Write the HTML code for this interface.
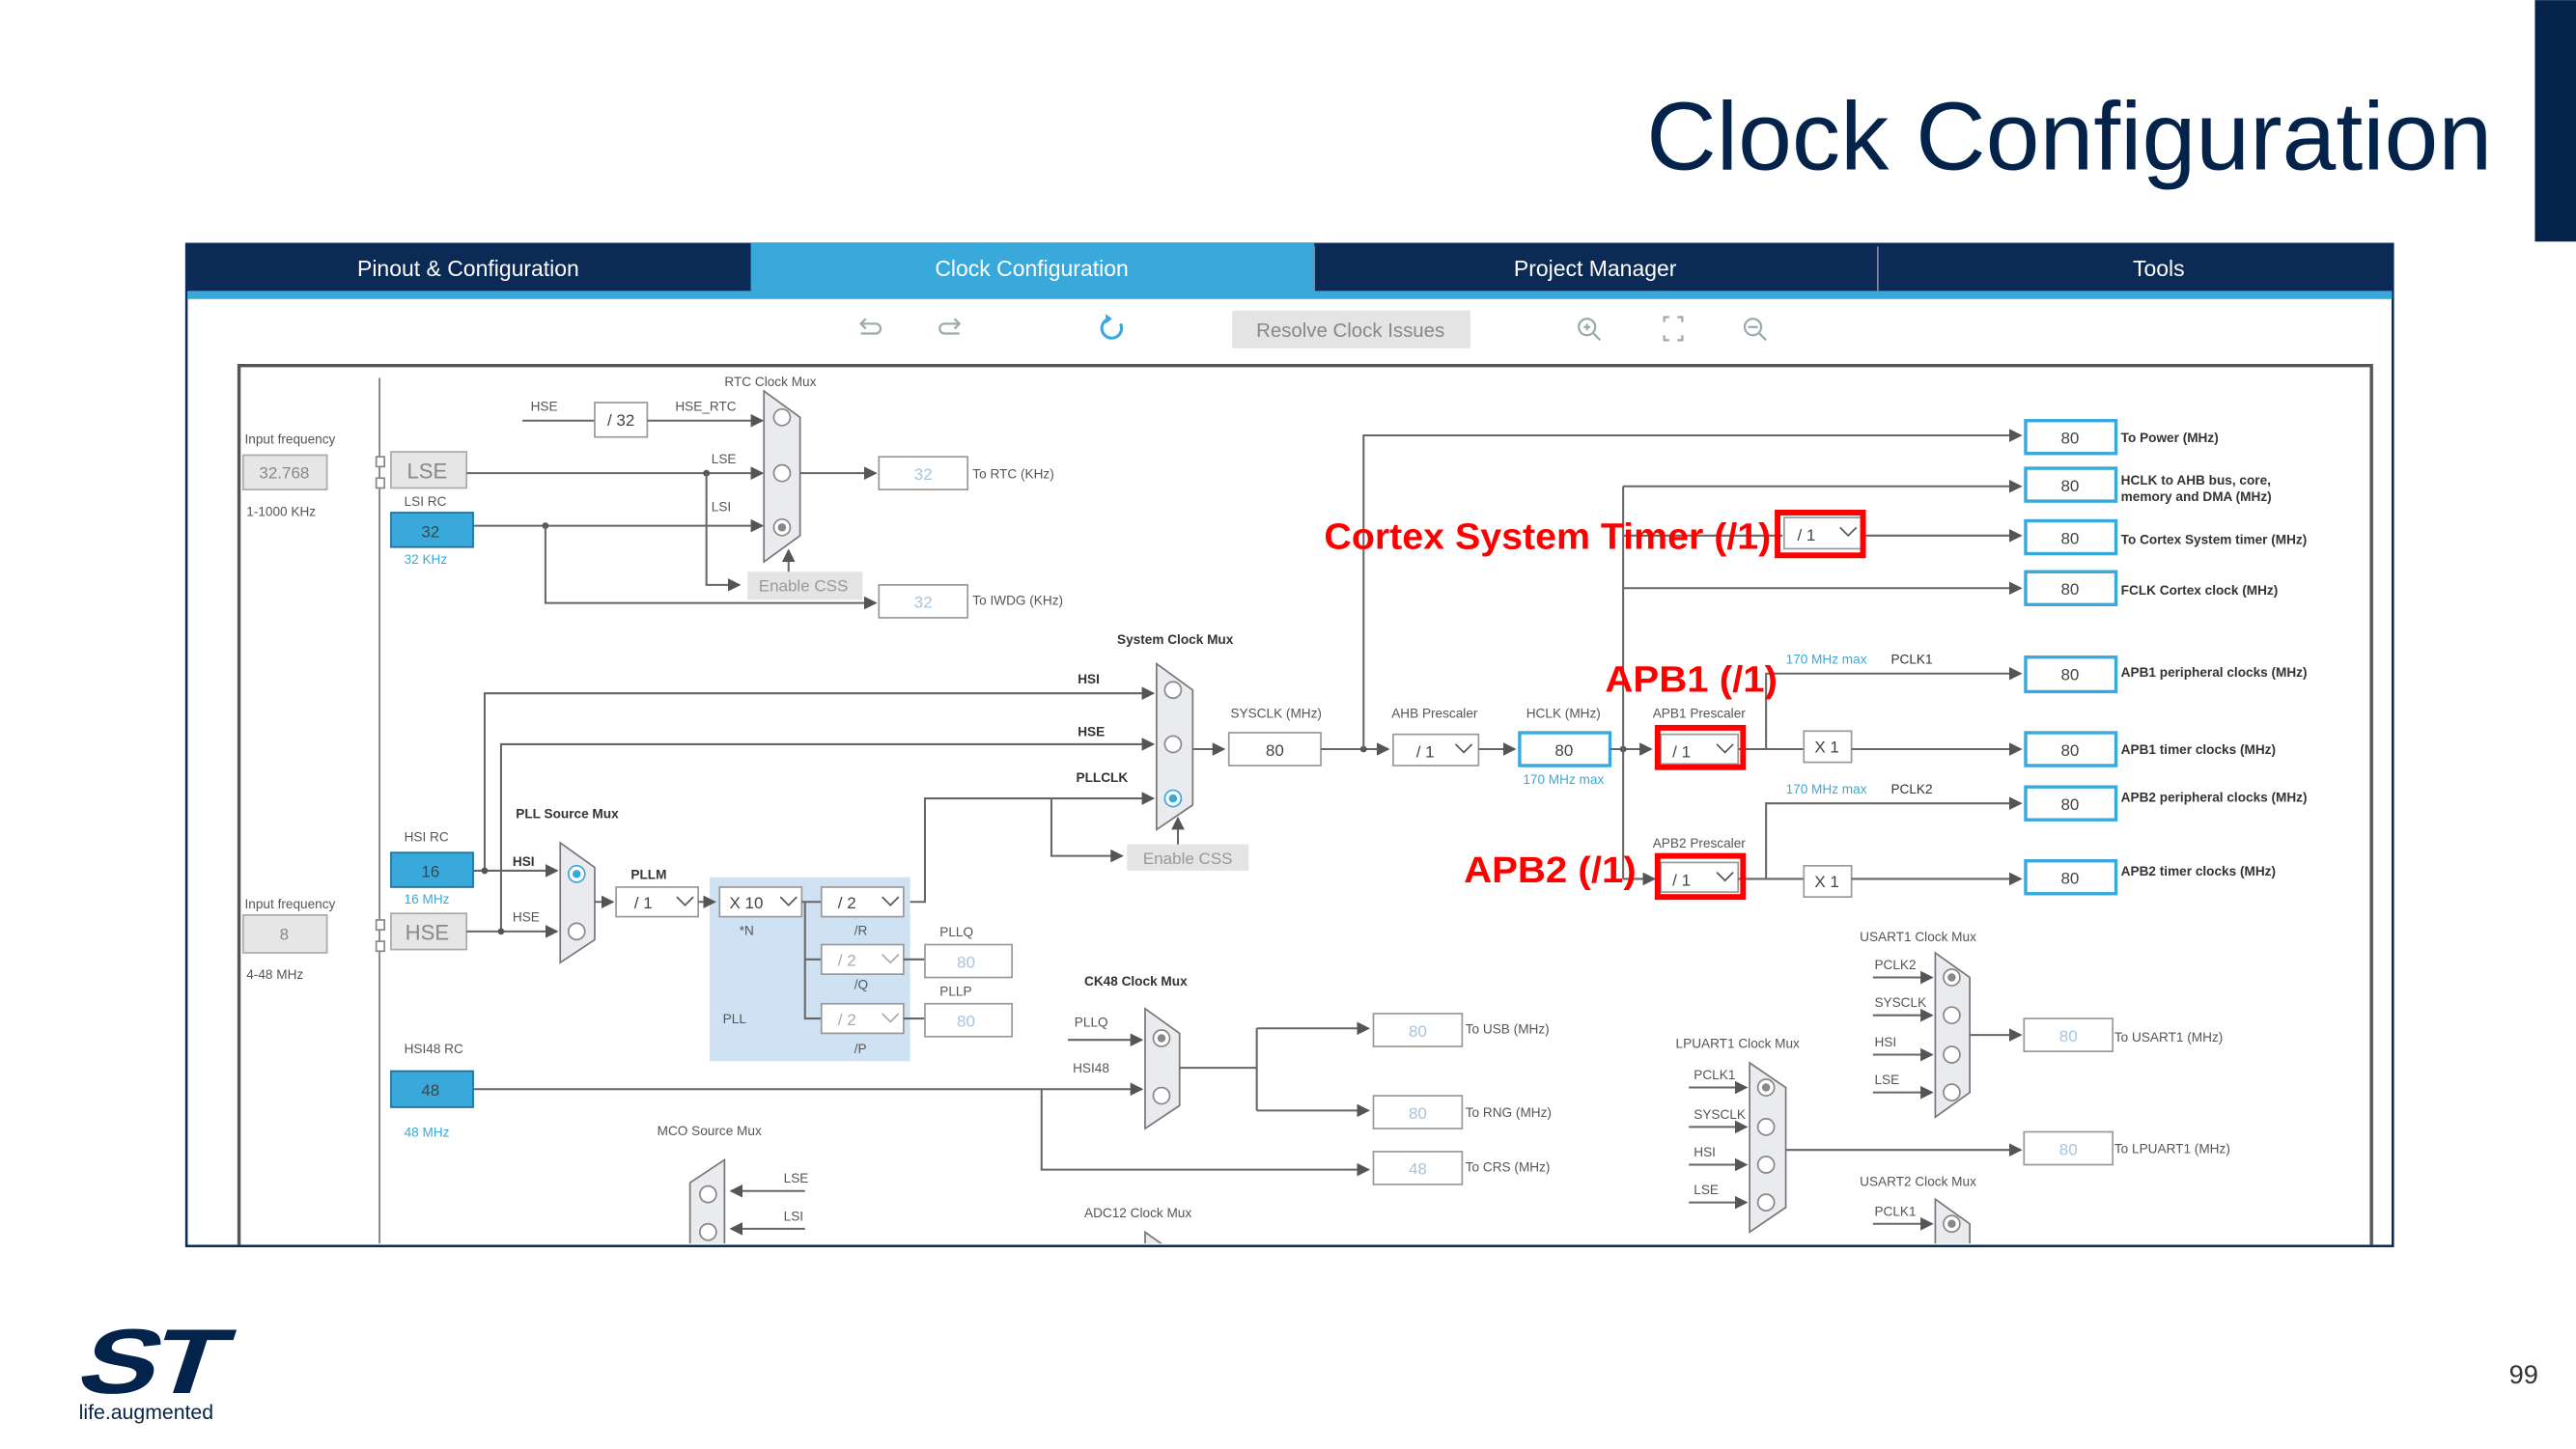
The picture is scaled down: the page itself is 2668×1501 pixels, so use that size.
<!DOCTYPE html>
<html><head><meta charset="utf-8"><style>
html,body{margin:0;padding:0;background:#fff;}
svg{display:block;}
text{font-family:"Liberation Sans",sans-serif;}
.s{font-size:8px;fill:#555;}
.b{font-size:8px;fill:#333;font-weight:bold;}
.bl{font-size:8px;fill:#39a9dc;}
.v{font-size:10px;fill:#444;text-anchor:middle;}
.vl{font-size:10px;fill:#a9c4dd;text-anchor:middle;}
.ln{stroke:#666;stroke-width:1.2;fill:none;}
.mux{fill:#e9ebee;stroke:#777;stroke-width:1;}
.c{fill:#fff;stroke:#888;stroke-width:1;}
.ob{fill:#fff;stroke:#39a9dc;stroke-width:2;}
.gb{fill:#fff;stroke:#999;stroke-width:1;}
.red{fill:#f00;font-weight:bold;font-size:22.5px;}
.rb{fill:none;stroke:#f00;stroke-width:3.5;}
</style></head><body>
<svg width="2668" height="1501" viewBox="0 0 1568 882" xmlns="http://www.w3.org/2000/svg">
<defs>
<marker id="a" markerWidth="8" markerHeight="8" refX="7" refY="4" orient="auto" markerUnits="userSpaceOnUse"><path d="M0,0 L8,4 L0,8 z" fill="#555"/></marker>
<clipPath id="cp"><rect x="145" y="222" width="1300" height="535"/></clipPath>
</defs>
<rect x="1543" y="0" width="25" height="147" fill="#03234b"/>
<text x="1517" y="103" font-size="59" fill="#03234b" text-anchor="end">Clock Configuration</text>

<rect x="113.5" y="148.5" width="1343" height="610" fill="#fff" stroke="#0b2a55" stroke-width="1.5"/>
<rect x="114" y="148" width="1342" height="30" fill="#0b2a55"/>
<rect x="457" y="148" width="343" height="30" fill="#39a9dc"/>
<rect x="114" y="177" width="1342" height="5" fill="#39a9dc"/>
<line x1="1143" y1="150" x2="1143" y2="177" stroke="#7a8ba3"/>
<line x1="800" y1="150" x2="800" y2="177" stroke="#7a8ba3"/>
<g font-size="13.5" fill="#fff" text-anchor="middle">
<text x="285" y="168">Pinout &amp; Configuration</text>
<text x="628" y="168">Clock Configuration</text>
<text x="971" y="168">Project Manager</text>
<text x="1314" y="168">Tools</text>
</g>
<g stroke="#9aa" fill="none" stroke-width="1.3">
<path d="M524,203 h9 a3,3 0 0 0 0,-6 h-8 M527,194 l-3,3 l3,3"/>
<path d="M584,203 h-9 a3,3 0 0 1 0,-6 h8 M581,194 l3,3 l-3,3"/>
<circle cx="966" cy="199" r="5"/><path d="M970,203 l4,4 M964,199 h4 M966,197 v4"/>
<path d="M1013,196 v-3 h3 M1021,193 h3 v3 M1024,204 v3 h-3 M1016,207 h-3 v-3"/>
<circle cx="1067" cy="199" r="5"/><path d="M1071,203 l4,4 M1064,199 h6"/>
</g>
<path d="M682,197 a6,6 0 1 1 -7,-3" stroke="#39a9dc" stroke-width="1.8" fill="none"/>
<path d="M673,191 l4,3 l-4,3z" fill="#39a9dc"/>
<rect x="750" y="189" width="145" height="23" fill="#e4e4e4"/>
<text x="822" y="205" font-size="12" fill="#888" text-anchor="middle">Resolve Clock Issues</text>

<path d="M145.5,758 V222.5 H1443.5 V758" fill="none" stroke="#555" stroke-width="2"/>
<g clip-path="url(#cp)">
<line x1="231" y1="230" x2="231" y2="760" stroke="#777"/>
<text x="149" y="270" class="s">Input frequency</text>
<rect x="148" y="277" width="51" height="21" fill="#e6e6e6" stroke="#aaa"/>
<text x="173" y="291" class="v" style="fill:#888">32.768</text>
<text x="150" y="314" class="s">1-1000 KHz</text>
<rect x="229" y="278" width="5" height="6" fill="#fff" stroke="#888"/><rect x="229" y="291" width="5" height="6" fill="#fff" stroke="#888"/>
<rect x="238" y="275" width="46" height="22" fill="#e6e6e6" stroke="#aaa"/>
<text x="260" y="291" font-size="13" fill="#888" text-anchor="middle">LSE</text>
<text x="246" y="308" class="s">LSI RC</text>
<rect x="238" y="312" width="50" height="21" fill="#39a9dc" stroke="#1d6f99"/>
<text x="262" y="327" class="v">32</text>
<text x="246" y="343" class="bl">32 KHz</text>

<text x="441" y="235" class="s">RTC Clock Mux</text>
<text x="323" y="250" class="s">HSE</text><text x="411" y="250" class="s">HSE_RTC</text>
<line x1="318" y1="256" x2="362" y2="256" class="ln"/>
<rect x="362" y="245" width="32" height="21" class="gb"/><text x="378" y="259" class="v">/ 32</text>
<line x1="394" y1="256" x2="464" y2="256" class="ln" marker-end="url(#a)"/>
<line x1="284" y1="288" x2="464" y2="288" class="ln" marker-end="url(#a)"/>
<circle cx="430" cy="288" r="2" fill="#555"/>
<text x="433" y="282" class="s">LSE</text><text x="433" y="311" class="s">LSI</text>
<line x1="288" y1="320" x2="464" y2="320" class="ln" marker-end="url(#a)"/>
<circle cx="332" cy="320" r="2" fill="#555"/>
<path d="M430,288 V356 H450" class="ln" marker-end="url(#a)"/>
<rect x="455" y="348" width="70" height="17" fill="#e4e4e4"/><text x="489" y="360" font-size="10" fill="#999" text-anchor="middle">Enable CSS</text>
<line x1="480" y1="348" x2="480" y2="335" class="ln" marker-end="url(#a)"/>
<polygon points="465,238 487,254 487,326 465,342" class="mux"/>
<circle cx="476" cy="254" r="5" class="c"/><circle cx="476" cy="288" r="5" class="c"/><circle cx="476" cy="321" r="5" class="c"/><circle cx="476" cy="321" r="2.5" fill="#888"/>
<line x1="487" y1="288" x2="533" y2="288" class="ln" marker-end="url(#a)"/>
<rect x="535" y="278" width="54" height="20" class="gb"/><text x="562" y="292" class="vl">32</text>
<text x="592" y="291" class="s">To RTC (KHz)</text>
<path d="M332,320 V367 H533" class="ln" marker-end="url(#a)"/>
<rect x="535" y="356" width="54" height="20" class="gb"/><text x="562" y="370" class="vl">32</text>
<text x="592" y="368" class="s">To IWDG (KHz)</text>

<text x="680" y="392" class="b">System Clock Mux</text>
<path d="M295,530 V422 H702" class="ln" marker-end="url(#a)"/>
<path d="M305,567 V453 H702" class="ln" marker-end="url(#a)"/>
<text x="656" y="416" class="b">HSI</text><text x="656" y="448" class="b">HSE</text><text x="655" y="476" class="b">PLLCLK</text>
<path d="M550,549 H563 V486 H702" class="ln" marker-end="url(#a)"/>
<path d="M640,486 V521 H683" class="ln" marker-end="url(#a)"/>
<rect x="686" y="514" width="74" height="16" fill="#e4e4e4"/><text x="723" y="526" font-size="10" fill="#999" text-anchor="middle">Enable CSS</text>
<line x1="717" y1="514" x2="717" y2="498" class="ln" marker-end="url(#a)"/>
<polygon points="704,404 726,420 726,490 704,505" class="mux"/>
<circle cx="714" cy="420" r="5" class="c"/><circle cx="714" cy="453" r="5" class="c"/><circle cx="714" cy="486" r="5" class="c" style="stroke:#39a9dc"/><circle cx="714" cy="486" r="2.5" fill="#39a9dc"/>
<line x1="726" y1="456" x2="745" y2="456" class="ln" marker-end="url(#a)"/>
<text x="749" y="437" class="s">SYSCLK (MHz)</text>
<rect x="748" y="446" width="56" height="20" class="gb"/><text x="776" y="460" class="v">80</text>
<line x1="804" y1="456" x2="845" y2="456" class="ln" marker-end="url(#a)"/>
<circle cx="830" cy="456" r="2" fill="#555"/>
<path d="M830,456 V265 H1230" class="ln" marker-end="url(#a)"/>
<text x="847" y="437" class="s">AHB Prescaler</text>
<rect x="848" y="447" width="52" height="19" class="gb"/><text x="862" y="461" font-size="10" fill="#444">/ 1</text><path d="M886,453 l5,5 l5,-5" stroke="#555" fill="none"/>
<line x1="900" y1="456" x2="922" y2="456" class="ln" marker-end="url(#a)"/>
<text x="929" y="437" class="s">HCLK (MHz)</text>
<rect x="925" y="446" width="55" height="20" class="ob"/><text x="952" y="460" class="v">80</text>
<text x="927" y="477" class="bl">170 MHz max</text>
<line x1="980" y1="456" x2="1005" y2="456" class="ln" marker-end="url(#a)"/>
<circle cx="988" cy="456" r="2" fill="#555"/>
<line x1="988" y1="296" x2="988" y2="535" class="ln"/>
<line x1="988" y1="296" x2="1230" y2="296" class="ln" marker-end="url(#a)"/>
<line x1="988" y1="326" x2="1085" y2="326" class="ln"/>
<rect x="1086" y="315" width="47" height="19" class="gb"/><text x="1094" y="329" font-size="10" fill="#444">/ 1</text><path d="M1120,321 l5,5 l5,-5" stroke="#555" fill="none"/>
<line x1="1133" y1="326" x2="1230" y2="326" class="ln" marker-end="url(#a)"/>
<line x1="988" y1="358" x2="1230" y2="358" class="ln" marker-end="url(#a)"/>
<text x="1006" y="437" class="s">APB1 Prescaler</text>
<rect x="1011" y="447" width="47" height="18" class="gb"/><text x="1018" y="461" font-size="10" fill="#444">/ 1</text><path d="M1045,453 l5,5 l5,-5" stroke="#555" fill="none"/>
<line x1="1058" y1="456" x2="1098" y2="456" class="ln"/>
<path d="M1075,456 V410 H1230" class="ln" marker-end="url(#a)"/>
<rect x="1098" y="445" width="29" height="19" class="gb"/><text x="1112" y="458" class="v">X 1</text>
<line x1="1127" y1="456" x2="1230" y2="456" class="ln" marker-end="url(#a)"/>
<text x="1087" y="404" class="bl">170 MHz max</text><text x="1151" y="404" class="s" style="fill:#333">PCLK1</text>
<line x1="988" y1="535" x2="1007" y2="535" class="ln" marker-end="url(#a)"/>
<text x="1006" y="516" class="s">APB2 Prescaler</text>
<rect x="1011" y="525" width="47" height="18" class="gb"/><text x="1018" y="539" font-size="10" fill="#444">/ 1</text><path d="M1045,531 l5,5 l5,-5" stroke="#555" fill="none"/>
<line x1="1058" y1="535" x2="1098" y2="535" class="ln"/>
<path d="M1075,535 V489 H1230" class="ln" marker-end="url(#a)"/>
<rect x="1098" y="527" width="29" height="19" class="gb"/><text x="1112" y="540" class="v">X 1</text>
<line x1="1127" y1="535" x2="1230" y2="535" class="ln" marker-end="url(#a)"/>
<text x="1087" y="483" class="bl">170 MHz max</text><text x="1151" y="483" class="s" style="fill:#333">PCLK2</text>
<g>
<rect x="1233" y="256" width="55" height="20" class="ob"/><text x="1260" y="270" class="v">80</text>
<rect x="1233" y="285" width="55" height="20" class="ob"/><text x="1260" y="299" class="v">80</text>
<rect x="1233" y="317" width="55" height="20" class="ob"/><text x="1260" y="331" class="v">80</text>
<rect x="1233" y="348" width="55" height="20" class="ob"/><text x="1260" y="362" class="v">80</text>
<rect x="1233" y="400" width="55" height="21" class="ob"/><text x="1260" y="414" class="v">80</text>
<rect x="1233" y="446" width="55" height="20" class="ob"/><text x="1260" y="460" class="v">80</text>
<rect x="1233" y="479" width="55" height="20" class="ob"/><text x="1260" y="493" class="v">80</text>
<rect x="1233" y="524" width="55" height="20" class="ob"/><text x="1260" y="538" class="v">80</text>
</g>
<text x="1291" y="269" class="b">To Power (MHz)</text>
<text x="1291" y="295" class="b">HCLK to AHB bus, core,</text><text x="1291" y="305" class="b">memory and DMA (MHz)</text>
<text x="1291" y="331" class="b">To Cortex System timer (MHz)</text>
<text x="1291" y="362" class="b">FCLK Cortex clock (MHz)</text>
<text x="1291" y="412" class="b">APB1 peripheral clocks (MHz)</text>
<text x="1291" y="459" class="b">APB1 timer clocks (MHz)</text>
<text x="1291" y="488" class="b">APB2 peripheral clocks (MHz)</text>
<text x="1291" y="533" class="b">APB2 timer clocks (MHz)</text>

<rect x="432" y="534" width="122" height="112" fill="#cfe2f3"/>
<text x="246" y="512" class="s">HSI RC</text>
<rect x="238" y="519" width="50" height="21" fill="#39a9dc" stroke="#1d6f99"/><text x="262" y="534" class="v">16</text>
<text x="246" y="550" class="bl">16 MHz</text>
<text x="149" y="553" class="s">Input frequency</text>
<rect x="148" y="557" width="51" height="23" fill="#e6e6e6" stroke="#aaa"/><text x="173" y="572" class="v" style="fill:#888">8</text>
<text x="150" y="596" class="s">4-48 MHz</text>
<rect x="229" y="560" width="5" height="6" fill="#fff" stroke="#888"/><rect x="229" y="573" width="5" height="6" fill="#fff" stroke="#888"/>
<rect x="238" y="556" width="46" height="22" fill="#e6e6e6" stroke="#aaa"/><text x="260" y="572" font-size="13" fill="#888" text-anchor="middle">HSE</text>
<text x="314" y="498" class="b">PLL Source Mux</text>
<line x1="288" y1="530" x2="339" y2="530" class="ln" marker-end="url(#a)"/><circle cx="295" cy="530" r="2" fill="#555"/>
<line x1="284" y1="567" x2="339" y2="567" class="ln" marker-end="url(#a)"/><circle cx="305" cy="567" r="2" fill="#555"/>
<text x="312" y="527" class="b">HSI</text><text x="312" y="561" class="s">HSE</text>
<polygon points="341,513 362,528 362,572 341,586" class="mux"/>
<circle cx="351" cy="532" r="5" class="c" style="stroke:#39a9dc"/><circle cx="351" cy="532" r="2.5" fill="#39a9dc"/><circle cx="351" cy="567" r="5" class="c"/>
<text x="384" y="535" class="b">PLLM</text>
<line x1="362" y1="549" x2="373" y2="549" class="ln" marker-end="url(#a)"/>
<rect x="375" y="540" width="50" height="18" class="gb"/><text x="386" y="553" font-size="10" fill="#444">/ 1</text><path d="M412,546 l5,5 l5,-5" stroke="#555" fill="none"/>
<line x1="425" y1="549" x2="435" y2="549" class="ln" marker-end="url(#a)"/>
<rect x="438" y="540" width="50" height="18" class="gb"/><text x="444" y="553" font-size="10" fill="#444">X 10</text><path d="M475,546 l5,5 l5,-5" stroke="#555" fill="none"/>
<text x="450" y="569" class="s">*N</text>
<line x1="488" y1="549" x2="500" y2="549" class="ln"/>
<path d="M490,549 V620 H500 M490,584 H500" class="ln"/>
<rect x="500" y="540" width="50" height="18" class="gb"/><text x="510" y="553" font-size="10" fill="#444">/ 2</text><path d="M537,546 l5,5 l5,-5" stroke="#555" fill="none"/>
<text x="520" y="569" class="s">/R</text>
<rect x="500" y="575" width="50" height="18" class="gb"/><text x="510" y="588" font-size="10" fill="#aaa">/ 2</text><path d="M537,581 l5,5 l5,-5" stroke="#aaa" fill="none"/>
<text x="520" y="602" class="s">/Q</text>
<rect x="500" y="611" width="50" height="18" class="gb"/><text x="510" y="624" font-size="10" fill="#aaa">/ 2</text><path d="M537,617 l5,5 l5,-5" stroke="#aaa" fill="none"/>
<text x="520" y="641" class="s">/P</text>
<text x="440" y="623" class="s">PLL</text>
<line x1="550" y1="584" x2="563" y2="584" class="ln"/><line x1="550" y1="620" x2="563" y2="620" class="ln"/>
<text x="572" y="570" class="s">PLLQ</text><rect x="563" y="575" width="53" height="20" class="gb"/><text x="588" y="589" class="vl">80</text>
<text x="572" y="606" class="s">PLLP</text><rect x="563" y="611" width="53" height="20" class="gb"/><text x="588" y="625" class="vl">80</text>

<text x="660" y="600" class="b">CK48 Clock Mux</text>
<text x="654" y="625" class="s">PLLQ</text><text x="653" y="653" class="s">HSI48</text>
<line x1="650" y1="633" x2="695" y2="633" class="ln" marker-end="url(#a)"/>
<text x="246" y="641" class="s">HSI48 RC</text>
<rect x="238" y="652" width="50" height="22" fill="#39a9dc" stroke="#1d6f99"/><text x="262" y="667" class="v">48</text>
<text x="246" y="692" class="bl">48 MHz</text>
<line x1="288" y1="663" x2="695" y2="663" class="ln" marker-end="url(#a)"/>
<path d="M634,663 V712 H833" class="ln" marker-end="url(#a)"/>
<polygon points="697,614 718,629 718,673 697,687" class="mux"/>
<circle cx="707" cy="632" r="5" class="c"/><circle cx="707" cy="632" r="2.5" fill="#888"/><circle cx="707" cy="667" r="5" class="c"/>
<line x1="718" y1="650" x2="765" y2="650" class="ln"/>
<path d="M765,626 V676" class="ln"/>
<line x1="765" y1="626" x2="833" y2="626" class="ln" marker-end="url(#a)"/>
<line x1="765" y1="676" x2="833" y2="676" class="ln" marker-end="url(#a)"/>
<rect x="836" y="617" width="54" height="20" class="gb"/><text x="863" y="631" class="vl">80</text>
<rect x="836" y="667" width="54" height="20" class="gb"/><text x="863" y="681" class="vl">80</text>
<rect x="836" y="701" width="54" height="20" class="gb"/><text x="863" y="715" class="vl">48</text>
<text x="892" y="629" class="s">To USB (MHz)</text>
<text x="892" y="680" class="s">To RNG (MHz)</text>
<text x="892" y="713" class="s">To CRS (MHz)</text>

<text x="400" y="691" class="s">MCO Source Mux</text>
<polygon points="441,706 420,720 420,770 441,784" class="mux"/>
<circle cx="431" cy="727" r="5" class="c"/><circle cx="431" cy="750" r="5" class="c"/>
<line x1="490" y1="725" x2="445" y2="725" class="ln" marker-end="url(#a)"/>
<line x1="490" y1="748" x2="445" y2="748" class="ln" marker-end="url(#a)"/>
<text x="477" y="720" class="s">LSE</text><text x="477" y="743" class="s">LSI</text>
<text x="660" y="741" class="s">ADC12 Clock Mux</text>
<polygon points="697,750 718,765 718,800 697,810" class="mux"/>

<text x="1132" y="573" class="s">USART1 Clock Mux</text>
<text x="1141" y="590" class="s">PCLK2</text><text x="1141" y="613" class="s">SYSCLK</text><text x="1141" y="637" class="s">HSI</text><text x="1141" y="660" class="s">LSE</text>
<line x1="1140" y1="595" x2="1176" y2="595" class="ln" marker-end="url(#a)"/>
<line x1="1140" y1="618" x2="1176" y2="618" class="ln" marker-end="url(#a)"/>
<line x1="1140" y1="642" x2="1176" y2="642" class="ln" marker-end="url(#a)"/>
<line x1="1140" y1="665" x2="1176" y2="665" class="ln" marker-end="url(#a)"/>
<polygon points="1178,580 1199,595 1199,665 1178,680" class="mux"/>
<circle cx="1188" cy="595" r="5" class="c"/><circle cx="1188" cy="595" r="2.5" fill="#888"/><circle cx="1188" cy="618" r="5" class="c"/><circle cx="1188" cy="642" r="5" class="c"/><circle cx="1188" cy="665" r="5" class="c"/>
<line x1="1199" y1="630" x2="1230" y2="630" class="ln" marker-end="url(#a)"/>
<rect x="1232" y="620" width="54" height="20" class="gb"/><text x="1259" y="634" class="vl">80</text>
<text x="1287" y="634" class="s">To USART1 (MHz)</text>
<text x="1020" y="638" class="s">LPUART1 Clock Mux</text>
<text x="1031" y="657" class="s">PCLK1</text><text x="1031" y="681" class="s">SYSCLK</text><text x="1031" y="704" class="s">HSI</text><text x="1031" y="727" class="s">LSE</text>
<line x1="1028" y1="662" x2="1063" y2="662" class="ln" marker-end="url(#a)"/>
<line x1="1028" y1="686" x2="1063" y2="686" class="ln" marker-end="url(#a)"/>
<line x1="1028" y1="709" x2="1063" y2="709" class="ln" marker-end="url(#a)"/>
<line x1="1028" y1="732" x2="1063" y2="732" class="ln" marker-end="url(#a)"/>
<polygon points="1065,647 1087,662 1087,735 1065,750" class="mux"/>
<circle cx="1075" cy="662" r="5" class="c"/><circle cx="1075" cy="662" r="2.5" fill="#888"/><circle cx="1075" cy="686" r="5" class="c"/><circle cx="1075" cy="709" r="5" class="c"/><circle cx="1075" cy="732" r="5" class="c"/>
<line x1="1087" y1="700" x2="1230" y2="700" class="ln" marker-end="url(#a)"/>
<rect x="1232" y="689" width="54" height="20" class="gb"/><text x="1259" y="703" class="vl">80</text>
<text x="1287" y="702" class="s">To LPUART1 (MHz)</text>
<text x="1132" y="722" class="s">USART2 Clock Mux</text>
<text x="1141" y="740" class="s">PCLK1</text>
<line x1="1140" y1="745" x2="1176" y2="745" class="ln" marker-end="url(#a)"/>
<polygon points="1178,730 1199,745 1199,800 1178,810" class="mux"/>
<circle cx="1188" cy="745" r="5" class="c"/><circle cx="1188" cy="745" r="2.5" fill="#888"/>
</g>

<rect x="1082" y="312" width="52" height="26" class="rb"/>
<rect x="1009" y="443" width="52" height="24" class="rb"/>
<rect x="1009" y="521" width="52" height="25" class="rb"/>
<text x="806" y="334" class="red" textLength="272" lengthAdjust="spacingAndGlyphs">Cortex System Timer (/1)</text>
<text x="977" y="421" class="red" textLength="105" lengthAdjust="spacingAndGlyphs">APB1 (/1)</text>
<text x="891" y="537" class="red" textLength="105" lengthAdjust="spacingAndGlyphs">APB2 (/1)</text>

<g transform="skewX(-18)">
<text x="320" y="848" font-size="56" font-weight="bold" fill="#03234b" letter-spacing="-3" textLength="84" lengthAdjust="spacingAndGlyphs">ST</text>
</g>
<text x="48" y="864" font-size="12.5" fill="#03234b">life.augmented</text>
<text x="1545" y="842" font-size="16" fill="#333" text-anchor="end">99</text>
</svg>
</body></html>
